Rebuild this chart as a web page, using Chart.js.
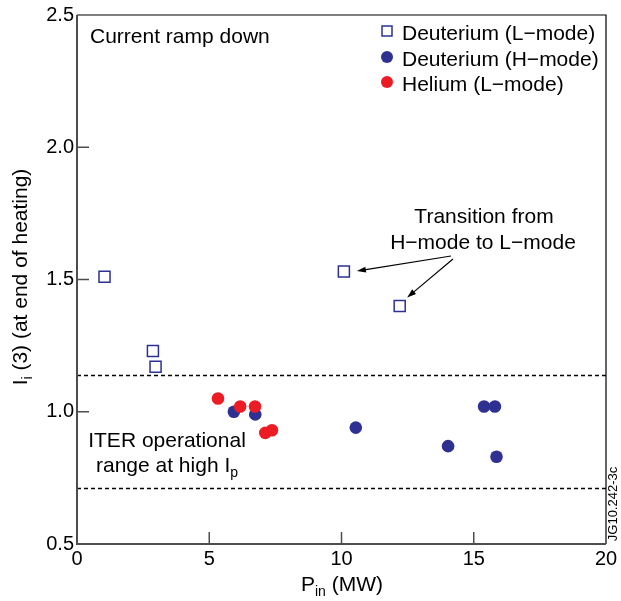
<!DOCTYPE html>
<html lang="en">
<head>
<meta charset="UTF-8">
<title>Current ramp down - li(3) vs Pin</title>
<script src="https://cdn.jsdelivr.net/npm/chart.js"></script>
<style>
  html, body { margin: 0; padding: 0; background: #fff; }
  canvas { display: block; }
</style>
</head>
<body>
<canvas id="chart" width="621" height="601"></canvas>
<script>
// values: P_in (MW) and li(3) at end of heating
const lModeP = [1.04, 2.87, 2.97, 10.09, 12.20];
const lModeLi = [1.51, 1.23, 1.17, 1.53, 1.40];
const hModeP = [5.93, 6.74, 10.54, 14.03, 15.39, 15.80, 15.86];
const hModeLi = [1.00, 0.99, 0.94, 0.87, 1.02, 1.02, 0.83];
const heP = [5.33, 6.17, 6.73, 7.12, 7.37];
const heLi = [1.05, 1.02, 1.02, 0.92, 0.93];
const xTicks = [0, 5, 10, 15, 20];
const yTicks = [0.5, 1.0, 1.5, 2.0, 2.5];
const iterRange = [0.71, 1.14];
const seriesNames = ['Deuterium (L\u2212mode)', 'Deuterium (H\u2212mode)', 'Helium (L\u2212mode)'];

const NAVY = '#2e3192';
const RED = '#ed1c24';
const FONT = '"Liberation Sans", Arial, Helvetica, sans-serif';

const pts = (xs, ys) => xs.map((v, i) => ({ x: v, y: ys[i] }));

// text with subscripts: parts = [[text, size, dy]]
function richText(ctx, parts, x, y, align) {
  let w = 0;
  parts.forEach(p => { ctx.font = p[1] + 'px ' + FONT; w += ctx.measureText(p[0]).width; });
  let cx = align === 'center' ? x - w / 2 : x;
  ctx.textAlign = 'left';
  parts.forEach(p => {
    ctx.font = p[1] + 'px ' + FONT;
    ctx.fillText(p[0], cx, y + (p[2] || 0));
    cx += ctx.measureText(p[0]).width;
  });
}

function arrow(ctx, x1, y1, x2, y2) {
  const ang = Math.atan2(y2 - y1, x2 - x1);
  ctx.beginPath();
  ctx.moveTo(x1, y1);
  ctx.lineTo(x2 - 6 * Math.cos(ang), y2 - 6 * Math.sin(ang));
  ctx.stroke();
  ctx.beginPath();
  ctx.moveTo(x2, y2);
  ctx.lineTo(x2 - 9 * Math.cos(ang) + 3 * Math.sin(ang), y2 - 9 * Math.sin(ang) - 3 * Math.cos(ang));
  ctx.lineTo(x2 - 9 * Math.cos(ang) - 3 * Math.sin(ang), y2 - 9 * Math.sin(ang) + 3 * Math.cos(ang));
  ctx.closePath();
  ctx.fill();
}

const decor = {
  id: 'decor',
  beforeDatasetsDraw(chart) {
    const { ctx, chartArea: a, scales: { y } } = chart;
    ctx.save();
    ctx.strokeStyle = '#000';
    ctx.lineWidth = 1.6;
    ctx.setLineDash([4, 3]);
    iterRange.forEach(v => {
      const py = Math.round(y.getPixelForValue(v)) + 0.5;
      ctx.beginPath();
      ctx.moveTo(a.left, py);
      ctx.lineTo(a.right, py);
      ctx.stroke();
    });
    ctx.restore();
  },
  afterDraw(chart) {
    const { ctx, chartArea: a, scales: { x, y } } = chart;
    ctx.save();

    // frame: heavier grey axes left/bottom, thin black top/right
    ctx.strokeStyle = '#000';
    ctx.lineWidth = 1.2;
    ctx.beginPath();
    ctx.moveTo(a.left, a.top);
    ctx.lineTo(a.right, a.top);
    ctx.lineTo(a.right, a.bottom);
    ctx.stroke();
    ctx.strokeStyle = '#4d4d4d';
    ctx.lineWidth = 2;
    ctx.beginPath();
    ctx.moveTo(a.left, a.top);
    ctx.lineTo(a.left, a.bottom);
    ctx.lineTo(a.right, a.bottom);
    ctx.stroke();

    // inward tick marks
    ctx.lineWidth = 1.5;
    xTicks.slice(1, -1).forEach(v => {
      const px = x.getPixelForValue(v);
      ctx.beginPath(); ctx.moveTo(px, a.bottom); ctx.lineTo(px, a.bottom - 12); ctx.stroke();
    });
    yTicks.slice(1, -1).forEach(v => {
      const py = y.getPixelForValue(v);
      ctx.beginPath(); ctx.moveTo(a.left, py); ctx.lineTo(a.left + 12, py); ctx.stroke();
    });

    ctx.fillStyle = '#000';
    ctx.textBaseline = 'alphabetic';

    // axis titles
    richText(ctx, [['P', 21], ['in', 14, 5], [' (MW)', 21]], 342, 591, 'center');
    ctx.save();
    ctx.translate(27, 277);
    ctx.rotate(-Math.PI / 2);
    richText(ctx, [['I', 21], ['i', 14, 5], [' (3) (at end of heating)', 21]], 0, 0, 'center');
    ctx.restore();

    // annotations
    richText(ctx, [['Current ramp down', 21]], 90, 43, 'left');
    richText(ctx, [['Transition from', 21]], 484, 223, 'center');
    richText(ctx, [['H\u2212mode to L\u2212mode', 21]], 483, 249, 'center');
    richText(ctx, [['ITER operational', 21]], 167, 447, 'center');
    richText(ctx, [['range at high I', 21], ['p', 14, 5]], 167, 472, 'center');

    ctx.save();
    ctx.translate(617, 504);
    ctx.rotate(-Math.PI / 2);
    ctx.font = '13px ' + FONT;
    ctx.textAlign = 'center';
    ctx.fillText('JG10.242-3c', 0, 0);
    ctx.restore();

    // arrows to the H->L transition points
    ctx.strokeStyle = '#000';
    ctx.lineWidth = 1.2;
    const p3 = [x.getPixelForValue(lModeP[3]), y.getPixelForValue(lModeLi[3])];
    const p4 = [x.getPixelForValue(lModeP[4]), y.getPixelForValue(lModeLi[4])];
    arrow(ctx, 451, 256, p3[0] + 13, p3[1] - 0.5);
    arrow(ctx, 453, 259, p4[0] + 7.5, p4[1] - 8.5);

    // legend
    const lx = 387;
    const rows = [31, 57, 82];
    ctx.strokeStyle = NAVY;
    ctx.lineWidth = 1.5;
    ctx.strokeRect(lx - 5, rows[0] - 5, 10, 10);
    ctx.fillStyle = NAVY;
    ctx.beginPath(); ctx.arc(lx, rows[1], 6, 0, Math.PI * 2); ctx.fill();
    ctx.fillStyle = RED;
    ctx.beginPath(); ctx.arc(lx, rows[2], 6, 0, Math.PI * 2); ctx.fill();
    ctx.fillStyle = '#000';
    seriesNames.forEach((t, i) => richText(ctx, [[t, 21]], 402, rows[i] + 8.5, 'left'));

    ctx.restore();
  }
};

new Chart(document.getElementById('chart'), {
  type: 'scatter',
  data: {
    datasets: [
      { label: seriesNames[0], data: pts(lModeP, lModeLi), order: 2,
        pointStyle: 'rect', pointRadius: 7.8, borderColor: NAVY, borderWidth: 1.5, backgroundColor: 'rgba(0,0,0,0)' },
      { label: seriesNames[1], data: pts(hModeP, hModeLi), order: 1,
        pointStyle: 'circle', pointRadius: 6.3, borderWidth: 0, backgroundColor: NAVY, borderColor: NAVY },
      { label: seriesNames[2], data: pts(heP, heLi), order: 0,
        pointStyle: 'circle', pointRadius: 6.3, borderWidth: 0, backgroundColor: RED, borderColor: RED }
    ]
  },
  options: {
    responsive: false,
    animation: false,
    layout: { padding: { top: 15, right: 15, left: 0, bottom: 0 } },
    plugins: { legend: { display: false }, tooltip: { enabled: false } },
    scales: {
      x: {
        type: 'linear', min: 0, max: 20,
        afterBuildTicks: s => { s.ticks = xTicks.map(v => ({ value: v })); },
        afterFit: s => { s.height = 57; },
        ticks: { font: { family: FONT, size: 20 }, color: '#000', padding: 3, maxRotation: 0, autoSkip: false },
        grid: { display: false, drawTicks: false },
        border: { display: false }
      },
      y: {
        type: 'linear', min: 0.5, max: 2.5,
        afterBuildTicks: s => { s.ticks = yTicks.map(v => ({ value: v })); },
        afterFit: s => { s.width = 77; },
        ticks: { font: { family: FONT, size: 20 }, color: '#000', padding: 3, autoSkip: false,
                 callback: v => Number(v).toFixed(1) },
        grid: { display: false, drawTicks: false },
        border: { display: false }
      }
    }
  },
  plugins: [decor]
});
</script>
</body>
</html>
